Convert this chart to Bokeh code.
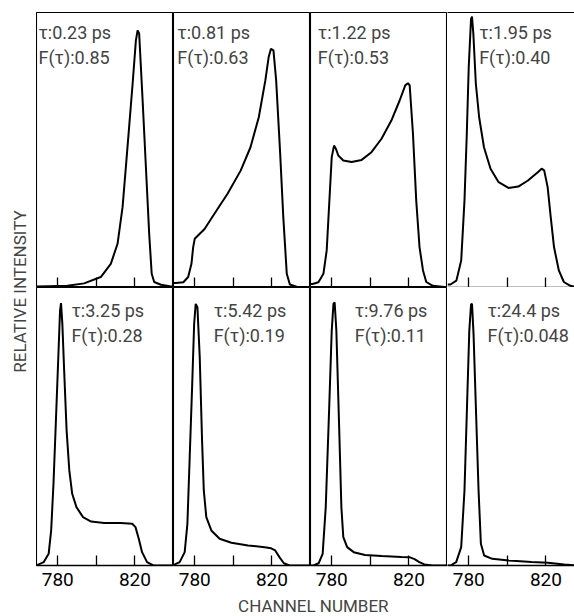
from bokeh.plotting import figure
from bokeh.layouts import row, column
from bokeh.models import Range1d, FixedTicker, Label, LinearAxis
from bokeh.embed import file_html
from bokeh.resources import INLINE
import math

FONT = "Roboto"

# ---------------- data (channel number, relative intensity) ----------------
ch_023 = [769, 775, 785, 793.7, 802.3, 807.5, 811, 813.6, 815.3, 817, 818.8, 820.5, 821.4, 822.2, 824, 825.7, 827.4, 828.7, 830, 833.5, 838.7, 840]
in_023 = [0.004, 0.005, 0.006, 0.015, 0.038, 0.086, 0.159, 0.292, 0.437, 0.583, 0.74, 0.898, 0.935, 0.924, 0.68, 0.437, 0.195, 0.05, 0.02, 0.01, 0.004, 0.002]

ch_081 = [769, 770.2, 774.1, 776.6, 778.3, 779.2, 780, 781.7, 785.1, 790.2, 797, 803.8, 808.9, 813.2, 816.6, 818.3, 819.5, 820.8, 822.2, 824.2, 825.9, 827.7, 829.3, 832.8, 840]
in_081 = [0.016, 0.016, 0.019, 0.038, 0.086, 0.147, 0.177, 0.189, 0.213, 0.268, 0.341, 0.425, 0.51, 0.619, 0.753, 0.837, 0.868, 0.862, 0.753, 0.498, 0.256, 0.05, 0.011, 0.003, 0.0]

ch_122 = [769, 770.1, 773.1, 775.7, 777.4, 778.6, 780, 781.2, 782.2, 783.4, 786, 790.3, 795.5, 800.6, 805.8, 810.9, 815.2, 818.1, 819.5, 820.4, 822.1, 823.8, 825.5, 827.3, 829, 832.4, 838.4, 840]
in_122 = [0.013, 0.013, 0.019, 0.05, 0.135, 0.292, 0.474, 0.516, 0.504, 0.48, 0.462, 0.456, 0.464, 0.492, 0.541, 0.607, 0.68, 0.735, 0.743, 0.735, 0.559, 0.316, 0.147, 0.062, 0.02, 0.006, 0.002, 0.0]

ch_195 = [769, 770.5, 773.6, 776.1, 777.8, 779, 780, 781.2, 781.7, 782.4, 783.7, 785.4, 787.9, 791.3, 795.5, 800.6, 805.7, 810.7, 815.8, 817.8, 819.1, 820.9, 822.5, 824.2, 826.7, 829.3, 832.7, 835]
in_195 = [0.011, 0.011, 0.025, 0.098, 0.316, 0.559, 0.801, 0.977, 0.985, 0.922, 0.74, 0.619, 0.51, 0.432, 0.383, 0.362, 0.367, 0.389, 0.419, 0.432, 0.426, 0.365, 0.256, 0.147, 0.062, 0.02, 0.006, 0.003]

ch_325 = [769, 770.2, 772.7, 775.3, 776.6, 777.8, 779, 780.3, 781.2, 781.7, 782.4, 783.4, 784.6, 786, 787.5, 789.7, 793.1, 797.3, 804.1, 812.7, 818.6, 820.3, 822, 823.7, 826.3, 829.6, 840]
in_325 = [0.003, 0.004, 0.012, 0.042, 0.126, 0.294, 0.51, 0.749, 0.917, 0.944, 0.869, 0.69, 0.486, 0.342, 0.258, 0.21, 0.174, 0.158, 0.153, 0.153, 0.15, 0.138, 0.096, 0.048, 0.012, 0.0, 0.0]

ch_542 = [769, 769.7, 772.2, 774.8, 776.2, 777.4, 778.7, 779.7, 780.5, 781.4, 782.6, 783.8, 784.7, 786, 788.6, 792.9, 799, 807.6, 816.2, 819.6, 821.7, 823.9, 826.2, 829.1, 840]
in_542 = [0.003, 0.004, 0.012, 0.048, 0.15, 0.39, 0.654, 0.869, 0.941, 0.929, 0.749, 0.45, 0.27, 0.174, 0.126, 0.096, 0.082, 0.072, 0.066, 0.062, 0.054, 0.03, 0.008, 0.0, 0.0]

ch_976 = [769, 770.5, 773.2, 775.3, 776.9, 778.7, 780, 780.9, 781.5, 782.4, 783.8, 785, 786, 788, 791.4, 797.3, 805.9, 816.1, 820.3, 822.9, 825.4, 828, 832.2, 840]
in_976 = [0.0, 0.0, 0.008, 0.042, 0.21, 0.57, 0.845, 0.941, 0.947, 0.845, 0.51, 0.21, 0.102, 0.066, 0.048, 0.038, 0.034, 0.031, 0.03, 0.023, 0.012, 0.004, 0.0, 0.0]

ch_244 = [769, 770.5, 773.5, 776.1, 777.8, 779.1, 780.3, 781.2, 781.7, 782.5, 783.7, 785.1, 786.3, 788, 792.2, 800.7, 812.6, 821.1, 829.5, 834.6]
in_244 = [0.0, 0.0, 0.012, 0.066, 0.27, 0.57, 0.845, 0.939, 0.941, 0.833, 0.57, 0.27, 0.078, 0.036, 0.024, 0.018, 0.013, 0.01, 0.004, 0.001]

channels = [ch_023, ch_081, ch_122, ch_195, ch_325, ch_542, ch_976, ch_244]
intensities = [in_023, in_081, in_122, in_195, in_325, in_542, in_976, in_244]
tau_labels = ["0.23", "0.81", "1.22", "1.95", "3.25", "5.42", "9.76", "24.4"]
f_labels = ["0.85", "0.63", "0.53", "0.40", "0.28", "0.19", "0.11", "0.048"]
label_x = [770, 771, 772.8, 785.4, 787.1, 789.8, 791.9, 789.7]

labelled_ticks = [780, 820]
plain_ticks = [800]
all_ticks = [780, 800, 820]

X_START, X_SPAN = 769, 71
PANEL_W = 137


def panel(idx):
    r, c = divmod(idx, 4)
    top = r == 0
    last = c == 3
    fw = 127 if last else PANEL_W
    x_end = X_START + X_SPAN * fw / PANEL_W
    p = figure(frame_width=fw, frame_height=275 if top else 278,
               x_range=Range1d(X_START, x_end), y_range=Range1d(0, 1),
               output_backend="svg", toolbar_location=None,
               y_axis_location=None, min_border=0,
               min_border_top=12 if top else 0,
               min_border_bottom=0 if top else 30)
    p.grid.visible = False
    ax = p.below[0]
    if last:
        # the reference is cropped on the right: no right-hand border
        p.outline_line_color = None
        if top:
            top_axis = LinearAxis(ticker=FixedTicker(ticks=[]), axis_line_width=1.2,
                                  major_tick_out=0, major_tick_in=0,
                                  minor_tick_out=0, minor_tick_in=0,
                                  major_label_standoff=0)
            p.add_layout(top_axis, "above")
    else:
        p.outline_line_color = "black"
        p.outline_line_width = 1.1
    if top:
        ax.ticker = FixedTicker(ticks=[], minor_ticks=all_ticks)
    else:
        ax.ticker = FixedTicker(ticks=labelled_ticks, minor_ticks=plain_ticks)
    ax.major_tick_in = 10
    ax.major_tick_out = 0
    ax.minor_tick_in = 10
    ax.minor_tick_out = 0
    ax.axis_line_width = 1.4
    ax.major_tick_line_width = 1.3
    ax.minor_tick_line_width = 1.3
    ax.minor_tick_line_color = "black"
    ax.major_label_text_font = FONT
    ax.major_label_text_font_size = "19px"
    ax.major_label_text_color = "black"
    ax.major_label_standoff = 0 if top else 7
    p.line(channels[idx], intensities[idx], line_color="black", line_width=2)
    y1, y2 = (0.929, 0.838) if top else (0.917, 0.829)
    p.add_layout(Label(x=label_x[idx], y=y1, text="τ:" + tau_labels[idx] + " ps",
                       text_font=FONT, text_font_size="18px", text_baseline="middle"))
    p.add_layout(Label(x=label_x[idx], y=y2, text="F(τ):" + f_labels[idx],
                       text_font=FONT, text_font_size="18px", text_baseline="middle"))
    return p


panels = [panel(i) for i in range(8)]
grid = column(row(*panels[:4]), row(*panels[4:]))

yfig = figure(width=36, height=565, x_range=Range1d(0, 1), y_range=Range1d(0, 1),
              output_backend="svg", toolbar_location=None, min_border=0,
              x_axis_location=None, y_axis_location=None)
yfig.grid.visible = False
yfig.outline_line_color = None
yfig.add_layout(Label(x=0.53, y=0.485, text="RELATIVE INTENSITY", angle=math.pi / 2,
                      text_font=FONT, text_font_size="17px",
                      text_align="center", text_baseline="middle"))

xfig = figure(width=574, height=21, x_range=Range1d(0, 1), y_range=Range1d(0, 1),
              output_backend="svg", toolbar_location=None, min_border=0,
              x_axis_location=None, y_axis_location=None)
xfig.grid.visible = False
xfig.outline_line_color = None
xfig.add_layout(Label(x=0.545, y=0.5, text="CHANNEL NUMBER",
                      text_font=FONT, text_font_size="17px",
                      text_align="center", text_baseline="middle"))

layout = column(row(yfig, grid), xfig)

open("out.html", "w").write(file_html(layout, INLINE))
